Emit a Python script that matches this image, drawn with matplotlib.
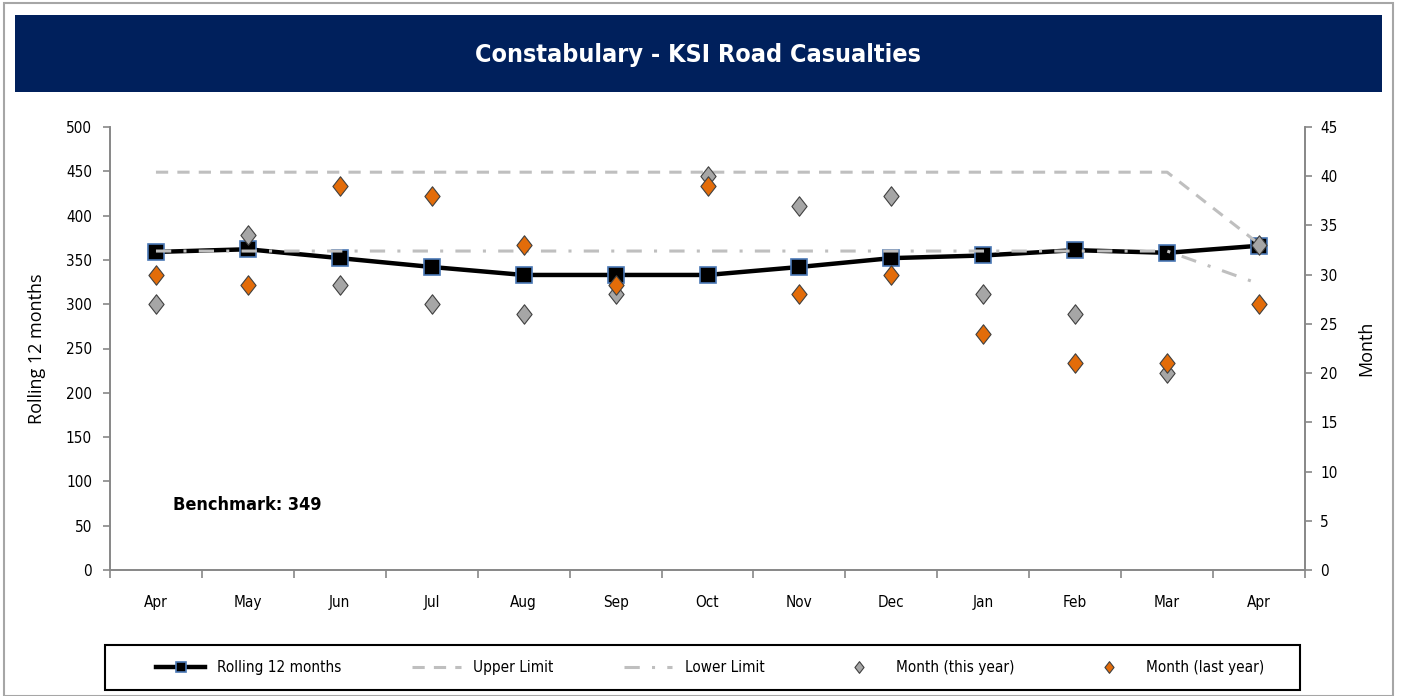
import numpy as np
import matplotlib
matplotlib.use("Agg")
import matplotlib.pyplot as plt
from matplotlib.patches import Rectangle
from matplotlib.path import Path

plt.rcParams['font.family'] = ['DejaVu Sans']
plt.rcParams['font.stretch'] = 'condensed'

# Data
months = ['Apr', 'May', 'Jun', 'Jul', 'Aug', 'Sep', 'Oct', 'Nov', 'Dec', 'Jan', 'Feb', 'Mar', 'Apr']
rolling = [359, 362, 352, 342, 333, 333, 333, 342, 352, 355, 361, 358, 366]
upper_limit = [449, 449, 449, 449, 449, 449, 449, 449, 449, 449, 449, 449, 368]
lower_limit = [360, 360, 360, 360, 360, 360, 360, 360, 360, 360, 360, 360, 323]
this_year = [27, 34, 29, 27, 26, 28, 40, 37, 38, 28, 26, 20, 33]
last_year = [30, 29, 39, 38, 33, 29, 39, 28, 30, 24, 21, 21, 27]
benchmark = 349

x = np.arange(len(months))

# slightly tall diamond like the Excel marker
diamond = Path([(0, 1), (0.78, 0), (0, -1), (-0.78, 0), (0, 1)],
               [Path.MOVETO, Path.LINETO, Path.LINETO, Path.LINETO, Path.CLOSEPOLY])

fig = plt.figure(figsize=(14.01, 6.96), dpi=100)

# outer frame and title banner
fig.patches.append(Rectangle((4 / 1401, 0.0), 1389 / 1401, 693 / 696, transform=fig.transFigure,
                             facecolor='none', edgecolor='#A6A6A6', linewidth=1.5))
fig.patches.append(Rectangle((15 / 1401, (696 - 92) / 696), 1367 / 1401, 77 / 696,
                             transform=fig.transFigure, facecolor='#00205C', edgecolor='none'))
fig.text(698 / 1401, (696 - 55) / 696, 'Constabulary - KSI Road Casualties', color='white',
         fontsize=18, fontweight='bold', ha='center', va='center')

ax = fig.add_axes([110 / 1401, 126 / 696, 1195 / 1401, 443 / 696])
ax2 = ax.twinx()

ax.plot(x, rolling, color='black', linewidth=3.2, marker='s', markersize=12,
        markerfacecolor='black', markeredgecolor='#4A78B5', markeredgewidth=1.2,
        label='Rolling 12 months', zorder=3)
ax.plot(x, upper_limit, color='#BFBFBF', linewidth=2.2, linestyle=(0, (4, 3)),
        label='Upper Limit', zorder=4)
ax.plot(x, lower_limit, color='#BFBFBF', linewidth=2.2, linestyle=(0, (5, 4, 1, 4)),
        label='Lower Limit', zorder=4)

ax2.plot(x, this_year, linestyle='none', marker=diamond, markersize=14, markerfacecolor='#A6A6A6',
         markeredgecolor='#404040', markeredgewidth=0.8, label='Month (this year)')
ax2.plot(x, last_year, linestyle='none', marker=diamond, markersize=14, markerfacecolor='#E36C09',
         markeredgecolor='#404040', markeredgewidth=0.8, label='Month (last year)')

ax.set_xlim(-0.5, 12.5)
ax.set_ylim(0, 500)
ax2.set_ylim(0, 45)
ax.set_yticks(np.arange(0, 501, 50))
ax2.set_yticks(np.arange(0, 46, 5))
ax.set_xticks(x)
ax.set_xticklabels(months)
ax.set_xticks(np.arange(-0.5, 12.6, 1), minor=True)

for a in (ax, ax2):
    a.spines['top'].set_visible(False)
    for s in ('left', 'right', 'bottom'):
        a.spines[s].set_color('#878787')
        a.spines[s].set_linewidth(1.2)

ax.tick_params(axis='x', which='major', length=0, pad=18, labelsize=11)
ax.tick_params(axis='x', which='minor', length=6, color='#878787', width=1.2)
ax.tick_params(axis='y', length=5, color='#878787', width=1.2, pad=8, labelsize=11)
ax2.tick_params(axis='y', length=5, color='#878787', width=1.2, pad=6, labelsize=11)

ax.set_ylabel('Rolling 12 months', fontsize=13, family=['Open Sans', 'DejaVu Sans'],
              fontstretch='normal', labelpad=14)
ax2.set_ylabel('Month', fontsize=13, rotation=90, family=['Open Sans', 'DejaVu Sans'],
               fontstretch='normal', labelpad=14)

ax.text(0.053, 0.147, 'Benchmark: ' + str(benchmark), transform=ax.transAxes,
        fontsize=13, fontweight='bold', ha='left', va='center')

# legend box drawn separately, entries spread inside it
fig.patches.append(Rectangle((105 / 1401, 6 / 696), 1195 / 1401, 45 / 696, transform=fig.transFigure,
                             facecolor='white', edgecolor='black', linewidth=1.5))
h1, l1 = ax.get_legend_handles_labels()
h2, l2 = ax2.get_legend_handles_labels()
leg = fig.legend(h1 + h2, l1 + l2, loc='center left', ncol=5, mode='expand',
                 bbox_to_anchor=(150 / 1401, 6 / 696, 1120 / 1401, 45 / 696),
                 frameon=False, fontsize=11, handlelength=3.2,
                 borderaxespad=0, markerscale=0.6)

fig.savefig('out.png', dpi=100)
